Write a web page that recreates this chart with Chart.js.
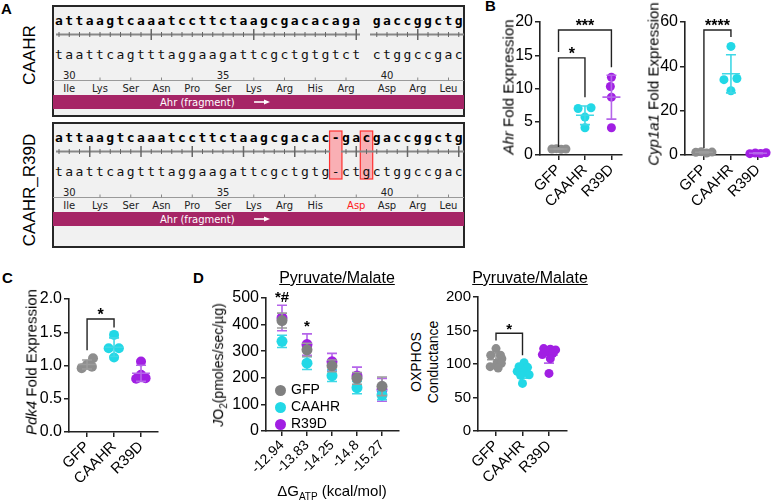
<!DOCTYPE html>
<html>
<head>
<meta charset="utf-8">
<script src="https://cdn.jsdelivr.net/npm/chart.js@4.4.1/dist/chart.umd.min.js"></script>
<style>
  body { margin: 0; width: 777px; height: 501px; background: #fff; position: relative; overflow: hidden;
         font-family: 'Liberation Sans', Arial, Helvetica, sans-serif; color: #000; }
  canvas { position: absolute; }
  .lab { position: absolute; font-weight: bold; font-size: 15px; line-height: 1; }
  .vt { position: absolute; transform: translate(-50%, -50%) rotate(-90deg); white-space: nowrap; line-height: 1; }
  .ht { position: absolute; transform: translate(-50%, -50%); white-space: nowrap; line-height: 1; }
  .leg { position: absolute; font-size: 14px; line-height: 1; white-space: nowrap; }
  .leg span { display: inline-block; width: 11px; height: 11px; border-radius: 50%; vertical-align: middle; margin-right: 5px; }
  svg text { font-family: 'DejaVu Sans', Verdana, sans-serif; }
</style>
</head>
<body>
<svg id="seq" width="470" height="252" style="position:absolute;left:0;top:0"></svg>

<div class="lab" style="left:1px;top:1px">A</div>
<div class="lab" style="left:485px;top:-2px">B</div>
<div class="lab" style="left:2px;top:270px">C</div>
<div class="lab" style="left:193px;top:270px">D</div>

<div class="vt" style="left:29px;top:55px;font-size:17px">CAAHR</div>
<div class="vt" style="left:29px;top:190px;font-size:17px">CAAHR_R39D</div>

<canvas id="cAhr" width="123" height="209" style="left:505px;top:6px"></canvas>
<canvas id="cCyp" width="118" height="209" style="left:655px;top:6px"></canvas>
<canvas id="cPdk" width="130" height="209" style="left:34px;top:283px"></canvas>
<canvas id="cJo2" width="177" height="201" style="left:228px;top:282px"></canvas>
<canvas id="cOx" width="128" height="210" style="left:445px;top:281px"></canvas>

<div class="vt" style="left:508px;top:87px;font-size:15px"><i>Ahr</i> Fold Expression</div>
<div class="vt" style="left:653px;top:84px;font-size:15px"><i>Cyp1a1</i> Fold Expression</div>
<div class="vt" style="left:31px;top:362px;font-size:15px"><i>Pdk4</i> Fold Expression</div>
<div class="vt" style="left:220px;top:365px;font-size:14px"><i>J</i>O<sub style="font-size:10px">2</sub>(pmoles/sec/µg)</div>
<div class="vt" style="left:425px;top:362px;font-size:14px;line-height:17px;text-align:center">OXPHOS<br>Conductance</div>
<div class="ht" style="left:332px;top:492px;font-size:15px">ΔG<sub style="font-size:10px">ATP</sub> (kcal/mol)</div>
<div class="ht" style="left:337px;top:278px;font-size:16px;text-decoration:underline">Pyruvate/Malate</div>
<div class="ht" style="left:530px;top:278px;font-size:16px;text-decoration:underline">Pyruvate/Malate</div>

<div class="leg" style="left:275px;top:382px"><span style="background:#808080"></span>GFP</div>
<div class="leg" style="left:275px;top:399px"><span style="background:#22d8e6"></span>CAAHR</div>
<div class="leg" style="left:275px;top:416px"><span style="background:#a11fe3"></span>R39D</div>

<script>
// ---- data ----
const groups = ['GFP', 'CAAHR', 'R39D'];

// B: Ahr fold expression
const ahrGFP = [0.9, 0.95, 0.85, 0.9];
const ahrCAAHR = [7.0, 7.1, 5.7, 4.1];
const ahrR39D = [11.7, 10.3, 8.7, 4.1];
const ahrJitter = [[-0.25, -0.08, 0.1, 0.28], [-0.26, 0.23, 0, 0], [0, -0.04, 0, 0]];

// B: Cyp1a1 fold expression
const cypGFP = [1.2, 1.5, 0.9, 1.3];
const cypCAAHR = [49, 34, 34.5, 29];
const cypR39D = [0.6, 0.9, 0.7, 1.0];
const cypJitter = [[-0.3, -0.1, 0.1, 0.3], [0, -0.26, 0.22, 0], [-0.3, -0.1, 0.1, 0.3]];

// C: Pdk4 fold expression
const pdkGFP = [0.96, 1.01, 1.11, 0.98];
const pdkCAAHR = [1.46, 1.26, 1.26, 1.12];
const pdkR39D = [1.06, 0.80, 0.81, 0.86];
const pdkJitter = [[-0.2, 0, 0.22, 0.18], [0, -0.2, 0.18, 0], [0, -0.18, 0.17, 0]];

// D: JO2 vs dG ATP (mean, SD)
const dgLabels = ['-12.94', '-13.83', '-14.25', '-14.8', '-15.27'];
const jo2GFP = [415, 305, 245, 198, 168];
const jo2GFPsd = [28, 25, 22, 22, 35];
const jo2CAAHR = [337, 255, 208, 163, 135];
const jo2CAAHRsd = [23, 24, 22, 23, 17];
const jo2R39D = [425, 325, 260, 207, 155];
const jo2R39Dsd = [48, 40, 32, 33, 43];

// D: OXPHOS conductance
const oxGFP = [123, 113, 113, 108, 102, 101, 96, 94];
const oxCAAHR = [102, 96, 95, 89, 88, 84, 83, 71];
const oxR39D = [123, 122, 121, 118, 116, 114, 108, 86];
const oxJitter = [[0, -0.2, 0.17, 0.22, 0.04, 0.2, -0.22, 0.08],
                  [0.06, -0.13, 0.19, -0.2, 0.06, 0.25, -0.07, 0],
                  [-0.2, 0.05, 0.25, -0.1, 0.15, -0.25, 0.05, 0]];

// A: sequences
const seqTopCAAHR = 'attaagtcaaatccttctaagcgacacaga gaccggctg';
const seqBotCAAHR = 'taattcagtttaggaagattcgctgtgtct ctggccgac';
const seqTopR39D = 'attaagtcaaatccttctaagcgacac-gacgaccggctg';
const seqBotR39D = 'taattcagtttaggaagattcgctgtg-ctgctggccgac';
const aaCAAHR = ['Ile', 'Lys', 'Ser', 'Asn', 'Pro', 'Ser', 'Lys', 'Arg', 'His', 'Arg', 'Asp', 'Arg', 'Leu'];
const aaR39D = ['Ile', 'Lys', 'Ser', 'Asn', 'Pro', 'Ser', 'Lys', 'Arg', 'His', 'Asp', 'Asp', 'Arg', 'Leu'];

// ---- panel A (sequence map) ----
const X = i => 59 + 10.25 * i;
function seqBox(o) {
  const oy = o.oy;
  let s = `<rect x="53" y="${o.y + 1}" width="411" height="${o.h - 2}" fill="#f1f1f1" stroke="#262626" stroke-width="2"/>`;
  o.marks.forEach(i => {
    s += `<rect x="${X(i) - 6.2}" y="${oy + 14}" width="12.4" height="48" fill="rgba(255,120,130,0.55)" stroke="#ff3030" stroke-width="1.2"/>`;
  });
  o.top.split('').forEach((c, i) => {
    if (c !== ' ') s += `<text x="${X(i)}" y="${oy + 25}" text-anchor="middle" style="font-family:'DejaVu Sans Mono';font-weight:bold;font-size:13px" fill="#000">${c}</text>`;
  });
  o.bot.split('').forEach((c, i) => {
    if (c !== ' ') s += `<text x="${X(i)}" y="${oy + 58.5}" text-anchor="middle" style="font-family:'DejaVu Sans Mono';font-size:13px" fill="#111">${c}</text>`;
  });
  o.segs.forEach(([a, b, x0, x1]) => {
    s += `<line x1="${x0}" y1="${oy + 34.5}" x2="${x1}" y2="${oy + 34.5}" stroke="#888" stroke-width="2"/>`;
    for (let i = a; i <= b; i++) {
      const big = o.big.includes(i);
      const d = big ? 5.5 : 2.5;
      s += `<line x1="${X(i)}" y1="${oy + 34.5 - d}" x2="${X(i)}" y2="${oy + 34.5 + d}" stroke="#666" stroke-width="${big ? 1.5 : 1}"/>`;
    }
  });
  s += `<line x1="53" y1="${oy + 80.5}" x2="464" y2="${oy + 80.5}" stroke="#9a9a9a" stroke-width="1"/>`;
  const nums = { 1: '30', 16: '35', 32: '40' };
  o.aa.forEach((name, k) => {
    const i = o.aaIdx[k];
    if (nums[i]) s += `<text x="${X(i)}" y="${oy + 79}" text-anchor="middle" font-size="10" fill="#222">${nums[i]}</text>`;
    else s += `<line x1="${X(i)}" y1="${oy + 77.5}" x2="${X(i)}" y2="${oy + 80.5}" stroke="#888"/>`;
    s += `<text x="${X(i)}" y="${oy + 91.5}" text-anchor="middle" font-size="10" fill="${k === o.red ? '#ff2020' : '#222'}">${name}</text>`;
  });
  s += `<rect x="53" y="${oy + 95}" width="411" height="14" fill="#a62566"/>`;
  s += `<text x="160" y="${oy + 106}" font-size="10" fill="#fff">Ahr (fragment)</text>`;
  s += `<line x1="254" y1="${oy + 102}" x2="266" y2="${oy + 102}" stroke="#fff" stroke-width="1.6"/>`;
  s += `<polygon points="264,${oy + 99.5} 270,${oy + 102} 264,${oy + 104.5}" fill="#fff"/>`;
  return s;
}
const aaIdxCAAHR = [1, 4, 7, 10, 13, 16, 19, 22, 25, 28, 32, 35, 38];
const aaIdxR39D = [1, 4, 7, 10, 13, 16, 19, 22, 25, 29, 32, 35, 38];
document.getElementById('seq').innerHTML =
  seqBox({ y: 5, h: 112, oy: 0, top: seqTopCAAHR, bot: seqBotCAAHR, aa: aaCAAHR, aaIdx: aaIdxCAAHR, red: -1,
           marks: [], segs: [[0, 29, 56, 360], [31, 39, 370, 464]], big: [9, 19, 29, 35] }) +
  seqBox({ y: 122, h: 126, oy: 117, top: seqTopR39D, bot: seqBotR39D, aa: aaR39D, aaIdx: aaIdxR39D, red: 9,
           marks: [27, 30], segs: [[0, 26, 56, 330], [28, 39, 341, 464]], big: [3, 8, 13, 18, 23, 29, 34, 39] });

// ---- charts ----
const FONT = "'Liberation Sans', Arial, Helvetica, sans-serif";
const AXIS = '#222';
const dotColors = ['#8e8e8e', '#22d8e6', '#a11fe3'];
const barColors = ['#9c9c9c', '#3fd8e6', '#b565ea'];

function meanSd(vals) {
  const m = vals.reduce((a, b) => a + b, 0) / vals.length;
  const sd = Math.sqrt(vals.reduce((a, v) => a + (v - m) ** 2, 0) / (vals.length - 1));
  return { mean: m, sd };
}

function drawBars(chart, args, when) {
  const ds = chart.data.datasets[args.index];
  if (!ds.bars || ds.barsWhen !== when) return;
  const { ctx, scales: { x, y } } = chart;
  ctx.save();
  ctx.strokeStyle = ds.barColor;
  ctx.lineWidth = 1.6;
  ds.bars.forEach(b => {
    const px = x.getPixelForValue(b.x);
    const pm = y.getPixelForValue(b.mean);
    const pt = y.getPixelForValue(b.mean + b.sd);
    const pb = y.getPixelForValue(b.mean - b.sd);
    const c = ds.capHalf;
    ctx.beginPath();
    if (ds.meanHalf) { ctx.moveTo(px - ds.meanHalf, pm); ctx.lineTo(px + ds.meanHalf, pm); }
    ctx.moveTo(px, pt); ctx.lineTo(px, pb);
    ctx.moveTo(px - c, pt); ctx.lineTo(px + c, pt);
    ctx.moveTo(px - c, pb); ctx.lineTo(px + c, pb);
    ctx.stroke();
  });
  ctx.restore();
}
const errorBars = {
  id: 'errorBars',
  beforeDatasetDraw(chart, args) { drawBars(chart, args, 'before'); },
  afterDatasetDraw(chart, args) { drawBars(chart, args, 'after'); }
};

const brackets = {
  id: 'brackets',
  afterDatasetsDraw(chart, args, opts) {
    const { ctx, scales: { x, y } } = chart;
    ctx.save();
    ctx.strokeStyle = AXIS;
    ctx.lineWidth = 1.4;
    ctx.fillStyle = '#000';
    ctx.font = opts.starFont;
    ctx.textAlign = 'center';
    ctx.textBaseline = 'alphabetic';
    (opts.items || []).forEach(b => {
      const yb = y.getPixelForValue(b.y);
      if (b.x2 !== undefined) {
        const x1 = x.getPixelForValue(b.x1), x2 = x.getPixelForValue(b.x2);
        ctx.beginPath();
        ctx.moveTo(x1, y.getPixelForValue(b.from1));
        ctx.lineTo(x1, yb);
        ctx.lineTo(x2, yb);
        ctx.lineTo(x2, y.getPixelForValue(b.from2));
        ctx.stroke();
        ctx.fillText(b.label, (x1 + x2) / 2, yb + 1);
      } else {
        ctx.fillText(b.label, x.getPixelForValue(b.x1), yb);
      }
    });
    ctx.restore();
  }
};

function xScale(labels, min, max, size, height) {
  return {
    type: 'linear', min, max,
    afterBuildTicks: s => { s.ticks = labels.map((_, i) => ({ value: i + 1 })); },
    ticks: { autoSkip: false, minRotation: 45, maxRotation: 45, padding: 1, color: '#000',
             font: { family: FONT, size }, callback: v => labels[v - 1] },
    grid: { display: true, drawOnChartArea: false, drawTicks: true, tickLength: 5, color: AXIS, lineWidth: 1.5 },
    border: { display: true, color: AXIS, width: 1.6 },
    afterFit: s => { s.height = height; }
  };
}
function yScale(min, max, step, digits, size, width) {
  return {
    type: 'linear', min, max,
    ticks: { stepSize: step, padding: 2, color: '#000', font: { family: FONT, size },
             callback: v => v.toFixed(digits) },
    grid: { display: true, drawOnChartArea: false, drawTicks: true, tickLength: 5, color: AXIS, lineWidth: 1.5 },
    border: { display: true, color: AXIS, width: 1.6 },
    afterFit: s => { s.width = width; }
  };
}

function dotPlot(id, sets, jitter, cfg) {
  const datasets = sets.map((vals, g) => {
    const s = meanSd(vals);
    return {
      label: groups[g],
      data: vals.map((v, k) => ({ x: g + 1 + jitter[g][k], y: v })),
      backgroundColor: dotColors[g], borderWidth: 0,
      pointRadius: cfg.r, pointHoverRadius: cfg.r, clip: false,
      bars: [{ x: g + 1, mean: s.mean, sd: s.sd }],
      barColor: barColors[g], barsWhen: cfg.barsWhen, meanHalf: cfg.meanHalf, capHalf: cfg.capHalf
    };
  });
  new Chart(document.getElementById(id), {
    type: 'scatter',
    data: { datasets },
    options: {
      responsive: false, animation: false, events: [],
      layout: { padding: { left: 0, top: 16, right: cfg.padRight, bottom: 0 } },
      scales: {
        x: xScale(groups, cfg.xMin, cfg.xMax, cfg.xFont, cfg.xH),
        y: yScale(cfg.yMin, cfg.yMax, cfg.yStep, cfg.digits, cfg.yFont, cfg.yW)
      },
      plugins: {
        legend: { display: false }, tooltip: { enabled: false },
        brackets: { items: cfg.brackets, starFont: cfg.starFont }
      }
    },
    plugins: [errorBars, brackets]
  });
}

dotPlot('cAhr', [ahrGFP, ahrCAAHR, ahrR39D], ahrJitter, {
  r: 4.5, meanHalf: 9, capHalf: 5, barsWhen: 'after', padRight: 6,
  xMin: 0.3, xMax: 3.4, xFont: 15, xH: 60, yMin: 0, yMax: 20, yStep: 5, digits: 0, yFont: 16, yW: 35,
  starFont: `bold 16px ${FONT}`,
  brackets: [
    { x1: 1, x2: 2, y: 14.6, from1: 1.2, from2: 8.7, label: '*' },
    { x1: 1, x2: 3, y: 18.8, from1: 15.5, from2: 13.2, label: '***' }
  ]
});

dotPlot('cCyp', [cypGFP, cypCAAHR, cypR39D], cypJitter, {
  r: 4.5, meanHalf: 9, capHalf: 5, barsWhen: 'after', padRight: 8,
  xMin: 0.3, xMax: 3.26, xFont: 15, xH: 60, yMin: 0, yMax: 60, yStep: 20, digits: 0, yFont: 16, yW: 30,
  starFont: `bold 16px ${FONT}`,
  brackets: [{ x1: 1, x2: 2, y: 56.4, from1: 3.2, from2: 53.2, label: '****' }]
});

dotPlot('cPdk', [pdkGFP, pdkCAAHR, pdkR39D], pdkJitter, {
  r: 5, meanHalf: 9, capHalf: 5, barsWhen: 'after', padRight: 6,
  xMin: 0.33, xMax: 3.63, xFont: 15, xH: 60, yMin: 0, yMax: 2, yStep: 0.5, digits: 1, yFont: 16, yW: 35,
  starFont: `bold 16px ${FONT}`,
  brackets: [{ x1: 1, x2: 2, y: 1.7, from1: 1.23, from2: 1.57, label: '*' }]
});

dotPlot('cOx', [oxGFP, oxCAAHR, oxR39D], oxJitter, {
  r: 4.5, meanHalf: 9, capHalf: 5, barsWhen: 'before', padRight: 6,
  xMin: 0.32, xMax: 3.68, xFont: 15, xH: 60, yMin: 0, yMax: 200, yStep: 50, digits: 0, yFont: 15, yW: 33,
  starFont: `bold 15px ${FONT}`,
  brackets: [{ x1: 1, x2: 2, y: 146, from1: 135, from2: 113, label: '*' }]
});

// JO2 means with SD
const jo2Sets = [[jo2GFP, jo2GFPsd], [jo2CAAHR, jo2CAAHRsd], [jo2R39D, jo2R39Dsd]];
const jo2Colors = ['#808080', '#22d8e6', '#a11fe3'];
new Chart(document.getElementById('cJo2'), {
  type: 'scatter',
  data: {
    datasets: jo2Sets.map(([m, sd], g) => ({
      label: groups[g],
      data: m.map((v, i) => ({ x: i + 1, y: v })),
      backgroundColor: jo2Colors[g], borderWidth: 0,
      pointRadius: 5.5, pointHoverRadius: 5.5, clip: false,
      bars: m.map((v, i) => ({ x: i + 1, mean: v, sd: sd[i] })),
      barColor: barColors[g], barsWhen: 'before', meanHalf: 0, capHalf: 5
    }))
  },
  options: {
    responsive: false, animation: false, events: [],
    layout: { padding: { left: 0, top: 16, right: 6, bottom: 0 } },
    scales: {
      x: xScale(dgLabels, 0.36, 5.68, 14, 52),
      y: yScale(0, 500, 100, 0, 16, 38)
    },
    plugins: {
      legend: { display: false }, tooltip: { enabled: false },
      brackets: { starFont: `bold 15px ${FONT}`, items: [
        { x1: 1, y: 485, label: '*#' },
        { x1: 2, y: 376, label: '*' }
      ] }
    }
  },
  plugins: [errorBars, brackets]
});
</script>
</body>
</html>
